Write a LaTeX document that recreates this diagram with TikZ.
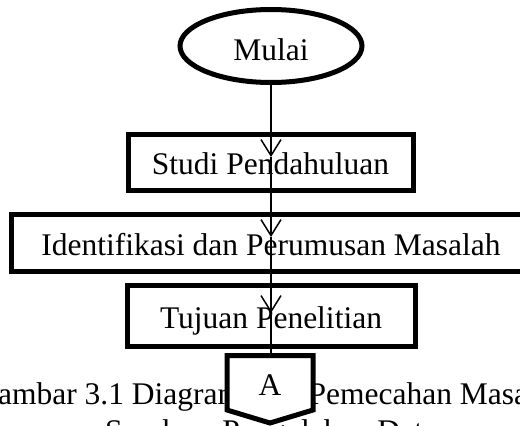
\documentclass[tikz,border=0pt]{standalone}
\usepackage{fontspec}
\setmainfont{Liberation Serif}
\usetikzlibrary{arrows.meta,calc,shapes.geometric}
\begin{document}
\begin{tikzpicture}[x=1pt,y=-1pt,
  txt/.style={font=\fontsize{31.5}{36}\selectfont, inner sep=0pt},
  terminal/.style={txt, ellipse, draw, line width=5pt, fill=white,
    minimum width=182pt, minimum height=73pt, text height=28pt, text depth=0pt},
  procbox/.style={txt, rectangle, draw, line width=5pt, fill=white,
    text height=24pt, text depth=0pt},
  conn/.style={line width=1.5pt, -{Straight Barb[length=16pt,width=20pt]}},
  plainconn/.style={line width=1.5pt},
  offpage/.style={line width=5pt, fill=white, line join=miter},
]
\useasboundingbox (0,0) rectangle (520,426);

% start terminal and process steps
\node[terminal] (mulai) at (271,46) {Mulai};
\node[procbox, minimum width=285pt, minimum height=56pt] (studi) at (270.5,162) {Studi Pendahuluan};
\node[procbox, minimum width=520pt, minimum height=57.5pt] (ident) at (271,243) {Identifikasi dan Perumusan Masalah};
\node[procbox, minimum width=288pt, minimum height=61.5pt] (tujuan) at (271,316) {Tujuan Penelitian};

% arrow ends and the top of the off-page connector
\coordinate (t1) at (271,157);
\coordinate (t2) at (271,237);
\coordinate (t3) at (271,313);
\coordinate (ptop) at (271,355.5);

\draw[conn] (mulai.south) -- (t1);
\draw[conn] (t1) -- (t2);
\draw[conn] (t2) -- (t3);
\draw[plainconn] (t3) -- (ptop);

% figure caption
\node[txt, anchor=base] (cap1) at (271,404) {Gambar 3.1 Diagram Alir Pemecahan Masalah};
\node[txt, anchor=base] (cap2) at (271,441) {Sumber: Pengolahan Data};

% off-page connector
\draw[offpage] (227,355.5) -- (313,355.5) -- (313,410) -- (270,423) -- (227,410) -- cycle;
\node[txt, text height=21pt, text depth=0pt] (offA) at (270,384.5) {A};
\end{tikzpicture}
\end{document}
